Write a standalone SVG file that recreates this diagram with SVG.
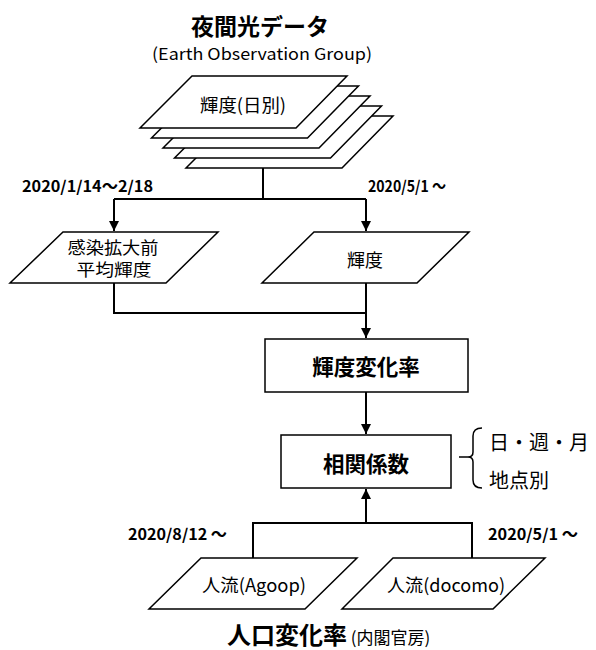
<svg xmlns="http://www.w3.org/2000/svg" width="596" height="650" viewBox="0 0 596 650">
<style>
.s{fill:#fff;stroke:#000;stroke-width:1.5}
.c{fill:none;stroke:#000;stroke-width:2}
text{font-family:"Noto Sans CJK JP","Noto Sans",sans-serif;fill:#000}
.n{font-size:18px;text-anchor:middle}
.b{font-weight:bold}
.d{font-size:15.5px;font-weight:bold}
.k{font-size:21.5px;font-weight:bold;text-anchor:middle}
</style>
<defs>
<marker id="a" viewBox="0 0 10 10" refX="10" refY="5" markerWidth="5" markerHeight="5" orient="auto" markerUnits="strokeWidth">
<path d="M0,0 L10,5 L0,10 z" fill="#000"/>
</marker>
</defs>
<g id="title">
<text x="260" y="35" font-size="23" text-anchor="middle" class="b">夜間光データ</text>
<text x="152" y="60" font-size="16.5" textLength="220" lengthAdjust="spacingAndGlyphs">(Earth Observation Group)</text>
</g>
<g id="stack">
<path class="s" d="M238,116 H393 L342,168 H186 Z"/>
<path class="s" d="M226.5,106 H381.5 L330.5,158 H174.5 Z"/>
<path class="s" d="M215,96 H370 L319,148 H163 Z"/>
<path class="s" d="M203.5,86 H358.5 L307.5,138 H151.5 Z"/>
<path class="s" d="M192,76 H347 L296,128 H140 Z"/>
<text x="200" y="112" font-size="18" textLength="86" lengthAdjust="spacingAndGlyphs">輝度(日別)</text>
</g>
<g id="pre">
<path class="s" d="M63,232 H218 L166,283 H10 Z"/>
<text x="113" y="254" font-size="16.5" text-anchor="middle" textLength="91" lengthAdjust="spacingAndGlyphs">感染拡大前</text>
<text x="114" y="276" font-size="16.5" text-anchor="middle" textLength="75" lengthAdjust="spacingAndGlyphs">平均輝度</text>
</g>
<g id="post">
<path class="s" d="M314,232 H469 L417,283 H262 Z"/>
<text x="365" y="267" class="n">輝度</text>
</g>
<g id="rate">
<rect class="s" x="265" y="339" width="203" height="53"/>
<text x="366" y="375" class="k">輝度変化率</text>
</g>
<g id="corr">
<rect class="s" x="281" y="435" width="170" height="53"/>
<text x="366" y="472" class="k">相関係数</text>
</g>
<g id="note">
<path class="c" style="stroke-width:1.5" d="M482,428 Q473,428 473,436 V452 Q473,457 468,457 H459 M468,457 Q473,457 473,462 V480 Q473,488 482,488"/>
<text x="489" y="450" font-size="20">日・週・月</text>
<text x="489" y="488" font-size="20">地点別</text>
</g>
<g id="agoop">
<path class="s" d="M201,558 H357 L305,609 H149 Z"/>
<text x="202" y="592" font-size="18" textLength="104" lengthAdjust="spacingAndGlyphs">人流(Agoop)</text>
</g>
<g id="docomo">
<path class="s" d="M393,558 H545 L493,609 H342 Z"/>
<text x="387" y="592" font-size="18" textLength="118" lengthAdjust="spacingAndGlyphs">人流(docomo)</text>
</g>
<g id="labels">
<text x="22" y="192" class="d" textLength="131" lengthAdjust="spacingAndGlyphs">2020/1/14〜2/18</text>
<text x="368" y="192" class="d" textLength="78" lengthAdjust="spacingAndGlyphs">2020/5/1 〜</text>
<text x="128" y="540" class="d" textLength="99" lengthAdjust="spacingAndGlyphs">2020/8/12 〜</text>
<text x="488" y="540" class="d" textLength="90" lengthAdjust="spacingAndGlyphs">2020/5/1 〜</text>
<text x="227" y="644" font-size="24" class="b">人口変化率<tspan font-size="17" font-weight="normal"> (内閣官房)</tspan></text>
</g>
<g id="connectors">
<path class="c" d="M263,168 V199"/>
<path class="c" d="M114,199 H366"/>
<path class="c" d="M114,199 V231" marker-end="url(#a)"/>
<path class="c" d="M366,199 V231" marker-end="url(#a)"/>
<path class="c" d="M114,283 V313 H366"/>
<path class="c" d="M366,283 V338" marker-end="url(#a)"/>
<path class="c" d="M366,392 V434" marker-end="url(#a)"/>
<path class="c" d="M253,558 V523 H472 V558"/>
<path class="c" d="M366,523 V489" marker-end="url(#a)"/>
</g>
</svg>
